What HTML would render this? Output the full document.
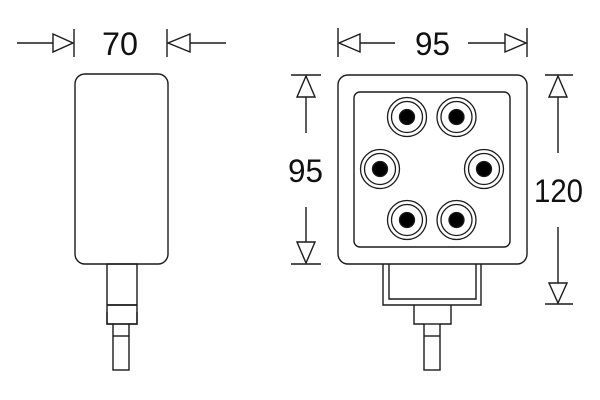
<!DOCTYPE html>
<html><head><meta charset="utf-8"><style>
html,body{margin:0;padding:0;background:#fff;}
svg{display:block;}
text{font-family:"Liberation Sans",sans-serif;font-size:32px;fill:#111;}
</style></head><body>
<svg width="600" height="400" viewBox="0 0 600 400" xmlns="http://www.w3.org/2000/svg">
<g fill="none" stroke="#1a1a1a" stroke-width="1.4">
<!-- Left view dimension 70 -->
<line x1="17" y1="43" x2="53" y2="43"/>
<polygon points="53,34 73,43 53,52" fill="#fff"/>
<line x1="74" y1="29" x2="74" y2="57"/>
<line x1="167" y1="29" x2="167" y2="57"/>
<polygon points="190,34 168,43 190,52" fill="#fff"/>
<line x1="190" y1="43" x2="226" y2="43"/>
<!-- Left body -->
<rect x="75" y="74" width="93" height="190" rx="10" ry="10"/>
<!-- left connector -->
<rect x="107" y="264" width="30" height="60"/>
<line x1="107" y1="305" x2="137" y2="305" stroke-width="1.8"/>
<path d="M107,312 L107,324 L113,324 M137,312 L137,324 L129,324" />
<rect x="113" y="324" width="16" height="46"/>
<line x1="113" y1="336" x2="129" y2="336"/>

<!-- Right view top dimension 95 -->
<line x1="338" y1="28" x2="338" y2="57"/>
<polygon points="360,34 339,43 360,52" fill="#fff"/>
<line x1="360" y1="43" x2="395" y2="43"/>
<line x1="468" y1="43" x2="505" y2="43"/>
<polygon points="505,34 526,43 505,52" fill="#fff"/>
<line x1="527" y1="28" x2="527" y2="57"/>

<!-- Right body -->
<rect x="338" y="75" width="189" height="189" rx="10" ry="10"/>
<rect x="354" y="92" width="156" height="155" rx="6" ry="6"/>

<!-- Left vertical dimension 95 -->
<line x1="291" y1="75" x2="321" y2="75"/>
<polygon points="297,97 306,76 315,97" fill="#fff"/>
<line x1="306" y1="97" x2="306" y2="133"/>
<line x1="306" y1="207" x2="306" y2="242"/>
<polygon points="297,242 306,263 315,242" fill="#fff"/>
<line x1="291" y1="264" x2="321" y2="264"/>

<!-- Right vertical dimension 120 -->
<line x1="545" y1="75" x2="573" y2="75"/>
<polygon points="549,97 558,76 567,97" fill="#fff"/>
<line x1="558" y1="97" x2="558" y2="153"/>
<line x1="558" y1="227" x2="558" y2="283"/>
<polygon points="549,283 558,303 567,283" fill="#fff"/>
<line x1="545" y1="304" x2="573" y2="304"/>

<!-- right connector -->
<path d="M383,264 L383,305 L481,305 L481,264"/>
<path d="M389,264 L389,299 L476,299 L476,264"/>
<path d="M414,305 L414,324 L424,324 M451,305 L451,324 L440,324"/>
<rect x="424" y="324" width="16" height="46"/>
<line x1="424" y1="336" x2="440" y2="336"/>
</g>

<!-- LEDs -->
<g stroke="#1a1a1a" stroke-width="1.3">
<g transform="translate(407,117)"><circle r="19.5" fill="none"/><circle r="15.5" fill="none"/><circle r="7.5" fill="#000"/></g>
<g transform="translate(456.5,117)"><circle r="19.5" fill="none"/><circle r="15.5" fill="none"/><circle r="7.5" fill="#000"/></g>
<g transform="translate(380,169)"><circle r="19.5" fill="none"/><circle r="15.5" fill="none"/><circle r="7.5" fill="#000"/></g>
<g transform="translate(484,169)"><circle r="19.5" fill="none"/><circle r="15.5" fill="none"/><circle r="7.5" fill="#000"/></g>
<g transform="translate(407,220)"><circle r="19.5" fill="none"/><circle r="15.5" fill="none"/><circle r="7.5" fill="#000"/></g>
<g transform="translate(456.5,220)"><circle r="19.5" fill="none"/><circle r="15.5" fill="none"/><circle r="7.5" fill="#000"/></g>
</g>

<!-- Labels -->
<text x="120" y="55" text-anchor="middle" textLength="36" lengthAdjust="spacingAndGlyphs">70</text>
<text x="432.5" y="55" text-anchor="middle" textLength="35" lengthAdjust="spacingAndGlyphs">95</text>
<text x="305.5" y="182" text-anchor="middle" textLength="35" lengthAdjust="spacingAndGlyphs">95</text>
<text x="558.5" y="202" text-anchor="middle" textLength="49" lengthAdjust="spacingAndGlyphs">120</text>
</svg>
</body></html>
